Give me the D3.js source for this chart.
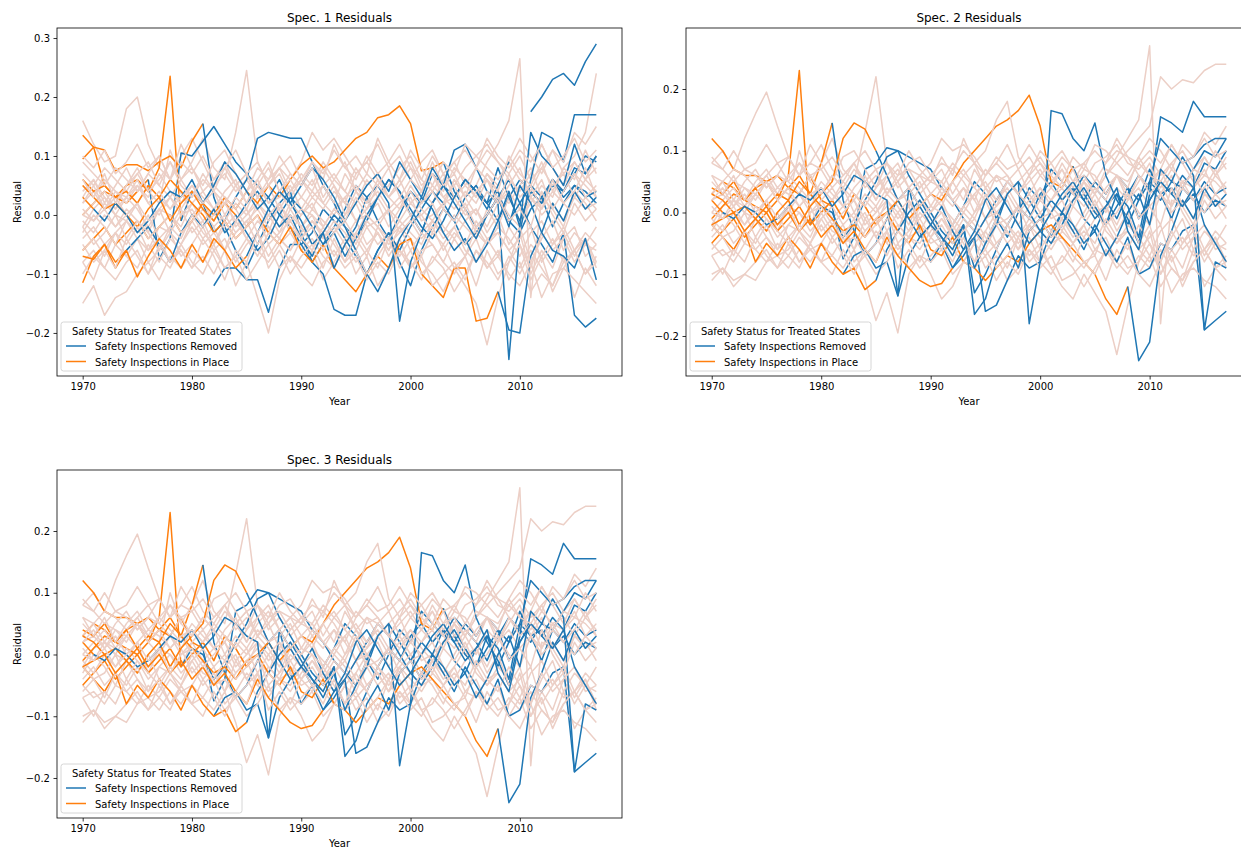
<!DOCTYPE html>
<html>
<head>
<meta charset="utf-8">
<script src="https://cdn.jsdelivr.net/npm/d3@7"></script>
<style>
  body { margin: 0; background: #fff; }
  text { font-family: "DejaVu Sans", sans-serif; fill: #000; }
</style>
</head>
<body>
<svg id="chart" width="1241" height="850"></svg>
<script>
// years on the x axis
const years = d3.range(1970, 2018);
const xTicks = [1970, 1980, 1990, 2000, 2010];

// residuals are written in hundredths (5 -> 0.05), one row per state, 1970..2017
// ---- Spec. 1: untreated states
const spec1Untreated = [
  [16,12,9,10,18,20,12,8,6,10, 13,9,5,7,4,6,3,5,8,6, 9,14,11,13,10,7,9,12,8,10, 6,9,11,7,5,8,10,12,9,7, 10,6,8,11,7,9,6,8],
  [4,6,3,1,5,7,4,2,11,6, 9,13,8,6,14,24.5,9,5,7,3, 6,4,8,5,2,7,9,6,3,5, 8,4,2,6,9,5,3,7,4,2, 5,8,3,6,4,7,5,3],
  [-2,1,3,0,-1,2,-3,1,0,-2, 2,-1,1,3,-2,0,2,-1,1,-3, 0,2,-2,1,3,-1,0,2,-2,1, 3,-1,0,2,6,3,5,9,12,16, 26.5,-14,3,1,-2,4,2,-1],
  [-4,-2,-5,-3,-1,-4,-6,-2,-3,-5, -1,-4,-2,-6,-3,-1,-5,-2,-4,-6, -3,-1,-4,-2,-5,-3,0,-2,-4,-1, -3,-5,-1,-3,0,-2,-4,1,-2,3, -1,2,5,3,8,10,14,24],
  [-15,-12,-17,-14,-13,-10,-8,-11,-7,-9, -6,-8,-5,-9,-7,-4,-6,-8,-5,-3, -6,-4,-7,-9,-5,-8,-6,-3,-7,-4, -9,-6,-5,-8,-10,-7,-4,-9,-6,-11, -8,-13,-10,-12,-7,-14,-9,-12],
  [-5,-8,-6,-3,-7,-9,-5,-8,-4,-6, -9,-7,-10,-6,-12,-8,-14,-20,-11,-7, -9,-6,-11,-8,-5,-10,-7,-12,-9,-6, -8,-11,-7,-9,-13,-10,-6,-8,-11,-7, -10,-6,-9,-12,-8,-6,-10,-7],
  [2,4,1,3,0,2,5,3,1,4, 0,2,-1,3,1,-2,2,0,-3,1, -2,0,-4,-1,-3,-6,-2,-5,-3,-7, -4,-8,-10,-13,-9,-12,-15,-22,-14,-8, -3,-10,-6,-9,-4,-8,-5,-6],
  [7,5,8,6,4,7,9,5,3,6, 8,4,6,9,5,7,3,6,8,4, 7,5,9,6,4,8,5,7,3,6, 9,5,7,4,8,6,3,7,5,9, 6,4,8,5,7,3,6,4],
  [-8,-6,-9,-5,-7,-4,-8,-6,-3,-7, -5,-2,-6,-4,-8,-5,-3,-7,-4,-6, -2,-5,-3,-7,-4,-1,-5,-3,-6,-2, -4,-7,-3,-5,-2,-6,-8,-4,-3,-6, -9,-5,-7,-4,-8,-6,-3,-5],
  [1,-1,2,0,3,1,-2,1,3,0, 2,4,1,-1,2,0,3,1,-2,2, 0,3,1,4,2,-1,1,3,0,2, 4,1,-1,2,3,0,1,-2,2,4, 1,3,0,2,-1,3,1,2],
  [5,3,6,4,2,5,3,7,4,2, 5,3,1,4,6,2,5,8,4,6, 3,1,5,7,4,2,6,3,5,8, 10,6,4,7,3,5,8,11,9,6, 4,7,12,8,5,9,6,10],
  [-3,0,-2,-5,-1,-3,0,-4,-2,1, -3,-1,-5,-2,0,-4,-1,-3,2,-2, -4,-1,-3,0,-2,-5,-1,-3,-6,-2, 0,-3,-1,-4,-2,1,-3,-5,-2,-4, -7,-3,-1,-5,-2,-6,-4,-8],
  [0,2,4,1,3,5,2,0,3,1, 4,2,5,3,1,4,6,2,3,5, 1,4,2,0,3,5,2,4,1,3, 0,2,5,3,1,4,2,6,3,0, -2,3,1,4,2,0,3,1],
  [-10,-7,-9,-11,-8,-6,-10,-7,-9,-5, -8,-10,-6,-9,-7,-11,-8,-5,-9,-7, -10,-12,-8,-6,-9,-7,-11,-8,-10,-6, -9,-7,-12,-10,-8,-11,-6,-9,-7,-10, -12,-8,-14,-10,-9,-11,-13,-15],
  [3,6,2,5,8,4,7,10,6,12, 8,5,9,11,7,4,8,6,10,7, 5,9,6,12,8,10,7,13,9,6, 11,8,5,9,7,12,10,8,6,9, 13,10,7,11,9,14,12,15],
  [-1,-3,0,-2,1,-1,-4,-2,0,-3, -1,1,-2,0,-3,-1,1,-2,-4,0, -2,1,-1,-3,0,2,-2,-1,1,-3, -1,0,2,-2,-4,-1,1,-3,0,-5, -2,-8,-4,-1,-6,-3,-5,-2],
  [9,7,5,8,6,4,7,5,9,6, 3,6,4,2,5,7,3,5,1,4, 6,3,5,2,7,4,1,5,3,6, 2,4,7,3,5,1,4,6,2,5, 8,3,6,1,4,7,3,5],
  [-6,-4,-7,-3,-5,-2,-6,-4,-8,-5, -2,-5,-3,-6,-1,-4,-7,-3,-5,-8, -4,-6,-2,-5,-8,-3,-6,-9,-4,-2, -6,-3,-5,-8,-4,-7,-2,-5,-3,-6, -4,-2,-8,-5,-3,-7,-4,-9],
  [2,5,1,4,3,6,2,4,1,3, 5,2,4,0,3,1,5,2,4,1, 3,6,2,5,0,4,2,6,3,1, 5,2,4,1,6,3,0,4,2,7, 3,5,1,6,2,4,8,3],
  [-2,-5,-3,0,-4,-1,-3,-6,-2,-4, 0,-3,-5,-1,-4,-2,0,-5,-3,-1, -4,-2,-6,-3,-1,-4,-7,-2,-5,-3, -1,-4,-2,-6,-3,-5,-1,-4,-7,-2, -5,-9,-3,-6,-4,-2,-7,-5],
  [6,3,7,2,5,8,4,6,9,5, 3,7,4,8,5,2,6,9,4,7, 5,8,3,6,9,4,7,5,8,3, 6,4,9,5,7,3,8,6,4,10, 7,5,9,4,8,6,11,7],
  [-8,-11,-6,-9,-4,-7,-10,-5,-8,-6, -9,-4,-7,-11,-6,-8,-3,-9,-6,-10, -7,-5,-9,-4,-8,-6,-10,-7,-4,-9, -6,-10,-8,-5,-9,-7,-12,-6,-10,-8, -5,-11,-7,-13,-9,-6,-10,-8],
  [0,-1,1,-2,0,2,-1,1,-3,0, 1,-2,0,2,-1,1,-3,0,2,-1, 1,0,-2,1,-1,3,0,-2,1,-1, 2,0,-3,1,-1,2,-2,0,3,-1, 1,-2,4,0,-3,2,-1,1],
  [10,8,11,7,9,12,8,10,6,9, 7,10,6,8,11,7,9,5,8,10, 6,9,7,11,8,6,10,7,9,12, 8,6,10,7,9,11,8,13,10,8, 11,9,12,8,10,13,9,11]
];

// ---- Spec. 1: treated states, and the first year without inspections
const spec1Treated = [
  [13.5,11.5,11,7.5,8.5,8.5,7.5,9,10,8, 12.5,15.5,3,-2,-6,-9,-5,-1,2,4, -3,-8,-5,-2,1,5,3,-1,-4,0, 4,2,7,5,3,6,4,2,-1,3, 6,4,2,5,4,7,10,9],
  [9.5,11.5,5,3,2,4,6,-7.5,-4,10.5, 10,12.5,15,12,9,7,5,3,0,-2, -5,-3,1,-1,-4,-7,-10,-6,-3,-8, -12,-6,-2,1,-1,3,5,2,4,-1, -3,1,3,-2,2,5,3,4],
  [0,2,4,3,5,6,4,8,23.5,-1, 4,2,-3,-1,3,6,13,14,13.5,13, 13,9,5,2,-2,-4,-1,3,6,4, 0,-3,2,5,3,6,4,2,8,3, -1,4,2,6,3,5,4,2],
  [null,null,null,null,null,null,null,null,null,null, null,null,-12,-9,-9,-11,-11,-16.5,-9,-5, -5,-8,-10,-16,-17,-17,-10,-6,-3,-6, -2,1,4,2,-1,-5,-3,0,3,6, 2,-2,-5,-8,-3,-17,-19,-17.5],
  [-6,-4,-2,-5,-3,-1,-4,-2,0,-3, -1,2,0,3,1,4,2,5,3,6, 8.5,10,8,9,11,13,14,16.5,17,18.5, 15.5,7.5,8,9,4,1,-2,0,3,-1, 2,5,3,6,4,8,7,10],
  [6,4,5,3,4,2,5,3,6,4, 2,0,-3,-1,-4,-2,0,-3,-5,-2, -6,-8,-5,-9,-11,-13,-10,-7,-9,-5, -4,-10,-12,-14,-9,-9,-18,-17.5,-13,-19.5, -20,-7,-3,2,-1,4,1,3],
  [-11.5,-7,-5,-8,-6,-4,-2,-5,-8,-3, 0,-2,1,-3,-1,2,4,1,-2,0, -4,-7,-3,-9,-5,-2,3,5,2,-18, -8,-3,2,5,11,12,8,4,2,-24.5, -3,6,14,13,9,17,17,17],
  [5,3,1,2,0,-2,1,3,-1,2, 4,1,-1,2,0,-3,-6,-4,0,3, 1,-2,-5,-3,-7,-4,0,3,6,4, 1,-2,-4,-1,3,6,4,1,5,9, null,17.5,20,23,24,22,26,29],
  [3,1,-1,2,0,-3,-1,2,4,3, 6,2,5,9,7,4,1,3,6,2, -1,-5,-3,0,-2,-6,-10,-13,-9,-4, -1,3,1,-3,-6,-4,-8,-5,-1,4, -2,14,10,8,5,12,7,10],
  [-7,-7.5,-5,-9,-6,-10.5,-7,-4,-6,-9, -5,-8,-4,-6,-9,-7,-3,1,4,2, 5,8,6,3,-1,2,5,7,4,9, 6,3,8,5,2,-1,-4,0,3,-2, 5,2,-3,-6,-7,-9,-4,-11]
];
const spec1Removed = [1982, 1977, 1980, 1970, 2004, 2009, 1975, 1985, 1972, 1986];

// ---- Spec. 2 (Spec. 3 reads the same off the picture)
const spec2Untreated = [
  [8,10,7,12,16,19.5,14,9,6,8, 11,7,5,8,4,6,3,5,7,6, 8,12,10,11,9,6,8,11,7,9, 6,8,10,7,5,8,9,11,8,7, 9,6,8,10,7,9,6,8],
  [3,5,2,1,4,6,3,2,10,5, 8,12,7,5,13,22,8,4,6,3, 5,4,7,5,2,6,8,6,3,5, 7,4,2,5,8,5,3,6,4,2, 5,7,3,5,4,6,5,3],
  [-2,1,2,0,-1,2,-3,1,0,-2, 2,-1,1,2,-2,0,2,-1,1,-3, 0,2,-2,1,3,-1,0,2,-2,1, 3,-1,0,2,5,3,6,9,12,15, 27,-18,2,1,-2,3,2,-1],
  [-4,-2,-5,-3,-1,-4,-6,-2,-3,-5, -1,-4,-2,-6,-3,-1,-5,-2,-4,-6, -3,-1,-4,-2,-5,-3,0,-2,-4,-1, -3,-5,-1,-3,0,3,6,8,10,12, 14,22,20,21.5,21,23,24,24],
  [-11,-9,-12,-10,-11,-8,-7,-9,-6,-8, -5,-7,-4,-8,-6,-3,-5,-7,-4,-3, -5,-4,-6,-8,-5,-7,-5,-3,-6,-4, -8,-5,-4,-7,-9,-6,-4,-8,-5,-10, -7,-12,-9,-11,-6,-12,-9,-11],
  [-5,-7,-6,-3,-6,-8,-5,-7,-4,-6, -8,-7,-9,-6,-11,-17.5,-13,-19.5,-10,-7, -8,-6,-10,-8,-5,-9,-7,-11,-9,-6, -8,-10,-7,-9,-12,-9,-6,-8,-10,-7, -9,-6,-9,-11,-8,-6,-9,-7],
  [2,3,1,3,0,2,4,3,1,3, 0,2,-1,3,1,-2,2,0,-3,1, -2,0,-4,-1,-3,-6,-2,-5,-3,-7, -5,-9,-12,-14,-10,-13,-16,-23,-15,-8, -3,-10,-6,-9,-4,-8,-5,-6],
  [6,5,7,6,4,6,8,5,3,6, 7,4,6,8,5,7,3,6,7,4, 6,5,8,6,4,7,5,6,3,6, 8,5,7,4,7,6,3,6,5,8, 6,4,7,5,6,3,6,4],
  [-7,-6,-8,-5,-6,-4,-7,-6,-3,-6, -5,-2,-5,-4,-7,-5,-3,-6,-4,-5, -2,-5,-3,-6,-4,-1,-5,-3,-6,-2, -4,-6,-3,-5,-2,-6,-7,-4,-3,-6, -8,-5,-6,-4,-7,-6,-3,-5],
  [1,-1,2,0,3,1,-2,1,3,0, 2,4,1,-1,2,0,3,1,-2,2, 0,3,1,4,2,-1,1,3,0,2, 4,1,-1,2,3,0,1,-2,2,4, 1,3,0,2,-1,3,1,2],
  [5,3,5,4,2,5,3,6,4,2, 5,3,1,4,6,2,5,7,4,6, 3,1,5,7,4,2,6,3,5,7, 9,6,4,7,3,5,8,10,9,6, 4,7,11,8,5,9,6,9],
  [-3,0,-2,-5,-1,-3,0,-4,-2,1, -3,-1,-5,-2,0,-4,-1,-3,2,-2, -4,-1,-3,0,-2,-5,-1,-3,-6,-2, 0,-3,-1,-4,-2,1,-3,-5,-2,-4, -7,-3,-1,-5,-2,-6,-4,-8],
  [0,2,4,1,3,5,2,0,3,1, 4,2,5,3,1,4,6,2,3,5, 1,4,2,0,3,5,2,4,1,3, 0,2,5,3,1,4,2,6,3,0, -2,3,1,4,2,0,3,1],
  [-10,-9,-11,-10,-8,-6,-9,-7,-9,-5, -8,-10,-6,-9,-7,-10,-8,-5,-9,-7, -10,-14,-12,-8,-9,-7,-11,-8,-10,-6, -9,-7,-11,-10,-8,-10,-6,-9,-7,-10, -12,-8,-13,-10,-9,-11,-12,-14],
  [3,5,2,5,7,4,6,9,6,11, 8,5,9,10,7,4,8,6,10,7, 5,9,6,12,8,10,15,18,9,6, 10,8,5,9,7,11,10,8,6,9, 12,10,7,11,9,13,11,14],
  [-1,-3,0,-2,1,-1,-4,-2,0,-3, -1,1,-2,0,-3,-1,1,-2,-4,0, -2,1,-1,-3,0,2,-2,-1,1,-3, -1,0,2,-2,-4,-1,1,-3,0,-5, -2,-8,-4,-1,-6,-3,-5,-2],
  [8,7,5,7,6,4,6,5,8,6, 3,6,4,2,5,7,3,5,1,4, 6,3,5,2,7,4,1,5,3,6, 2,4,7,3,5,1,4,6,2,5, 8,3,6,1,4,7,3,5],
  [-6,-4,-7,-3,-5,-2,-6,-4,-8,-5, -2,-5,-3,-6,-1,-4,-7,-3,-5,-8, -4,-6,-2,-5,-8,-3,-6,-9,-4,-2, -6,-3,-5,-8,-4,-7,-2,-5,-3,-6, -4,-2,-8,-5,-3,-7,-4,-9],
  [2,4,1,4,3,5,2,4,1,3, 4,2,4,0,3,1,4,2,4,1, 3,5,2,4,0,4,2,5,3,1, 4,2,4,1,5,3,0,4,2,6, 3,5,1,5,2,4,7,3],
  [-2,-4,-3,0,-4,-1,-3,-5,-2,-4, 0,-3,-4,-1,-4,-2,0,-5,-3,-1, -4,-2,-5,-3,-1,-4,-6,-2,-5,-3, -1,-4,-2,-5,-3,-5,-1,-4,-6,-2, -5,-8,-3,-6,-4,-2,-6,-5],
  [6,3,6,2,5,7,4,6,8,5, 3,6,4,7,5,2,6,8,4,6, 5,7,3,6,8,4,6,5,7,3, 6,4,8,5,6,3,7,6,4,9, 6,5,8,4,7,6,10,7],
  [-7,-10,-6,-8,-4,-7,-9,-5,-8,-6, -8,-4,-7,-10,-6,-8,-3,-9,-6,-9, -7,-5,-8,-4,-8,-6,-9,-7,-4,-8, -6,-9,-8,-5,-8,-7,-11,-6,-9,-8, -5,-10,-7,-12,-8,-6,-9,-8],
  [0,-1,1,-2,0,2,-1,1,-3,0, 1,-2,0,2,-1,1,-3,0,2,-1, 1,0,-2,1,-1,3,0,-2,1,-1, 2,0,-3,1,-1,2,-2,0,3,-1, 1,-2,4,0,-3,2,-1,1],
  [9,7,10,7,8,11,8,9,6,8, 7,9,6,8,10,7,8,5,8,9, 6,8,7,10,8,6,9,7,8,11, 8,6,9,7,8,10,8,12,9,8, 10,8,11,8,9,12,9,10]
];

const spec2Treated = [
  [12,10,7,6,6,5,6,4,6,3, 8,14.5,2,-3,-7,-5,-1,2,4,-3, -8,-5,-2,1,5,3,-1,-4,0,4, 2,7,5,3,6,4,2,-1,3,6, 4,2,5,4,7,10,9,12],
  [3,5,4,2,1,0,2,4,3,6, 2,1,-7.5,-4,7,8,10.5,10,6,3, 0,-3,-5,-2,-13,-10,-6,-2,1,-1, 3,5,2,4,-1,-3,1,3,-2,2, 5,3,4,1,3,0,2,1],
  [-1,1,3,2,4,5,2,6,23,-2, 1,0,-4,-2,2,5,9,10,9,8, 7,4,2,-1,-3,-5,-1,3,5,2, -1,-4,0,4,2,5,3,6,4,2, 7,3,-1,4,2,5,3,4],
  [null,null,null,null,null,null,null,null,null,null, null,null,-10,-7,-6,-9,-8,-13.5,-7,-4, -2,-5,-9,-7,-4,-16,-15,-11,-7,-9, -8,-3,0,-3,-6,-2,-5,-8,-4,-10, -9,-5,-6,-3,-2,-19,-17.5,-16],
  [-5,-3,-1,-4,-2,0,-3,-1,1,-2, 0,2,-1,3,1,-2,0,2,-1,1, 3,2,5,8,10,12,14,15,16.5,19, 14,5,4,7.5,3,0,-2,1,4,-1, 2,5,3,6,4,8,7,10],
  [4,3,5,2,4,1,3,2,5,3, 1,-1,-3,-2,-4,-1,0,-3,-5,-2, -6,-7,-4,-8,-9,-11,-9,-7,-8,-5, -3,-2,-4,-6,-8,-10,-14,-16.5,-12,-24, -21,-7,-3,2,-1,4,1,3],
  [-2,-4,-6,-3,-8,-5,-7,-4,-6,-9, -5,-8,-10,-9,-12.5,-11,-6,-3,0,2, -1,-4,-7,-3,-9,-5,-2,3,5,-18, -8,16.5,16,12,10,14.5,6,2,-1,-5, 3,15.5,14.5,13,18,15.5,15.5,15.5],
  [3,2,0,1,-1,-3,0,2,-2,1, 3,5,12,14.5,13.5,10,6,2,-1,-4, -2,1,-3,-6,-4,-1,2,5,3,0, -3,-5,-2,2,4,1,-2,3,1,-4, 5,12,10,8,9,11,12,12],
  [2,0,-1,1,0,-2,-1,1,3,2, 4,1,3,6,5,3,2,-13.5,4,1, -2,-4,-6,-2,-16.5,-14,-8,-5,-9,-3, -1,2,0,-2,-5,-3,-7,-4,0,3, -2,7,5,9,6,-19,-8,-9],
  [-2,-1,0,-3,-1,1,-2,0,-3,-1, -4,-2,-5,-3,-6,-8,-4,-7,-9,-11, -12,-11.5,-9,-6,-3,2,4,1,-2,-5, -3,0,3,5,2,-1,1,4,-3,-6, 2,5,3,1,4,-2,-5,-8]
];
const spec2Removed = [1982, 1982, 1980, 1970, 2004, 2009, 1986, 1986, 1972, 1993];

const panelTitles = ["Spec. 1 Residuals", "Spec. 2 Residuals", "Spec. 3 Residuals"];
const legendTitle = "Safety Status for Treated States";
const legendLabels = ["Safety Inspections Removed", "Safety Inspections in Place"];

const colors = { removed: "#1f77b4", inPlace: "#ff7f0e", untreated: "#eccfc6" };

const svg = d3.select("#chart");

const panels = [
  { title: panelTitles[0], left: 57, top: 28, width: 565, height: 348, yDomain: [-0.273, 0.317],
    yTicks: [-0.2, -0.1, 0, 0.1, 0.2, 0.3], untreated: spec1Untreated, treated: spec1Treated, removed: spec1Removed },
  { title: panelTitles[1], left: 686, top: 28, width: 566, height: 348, yDomain: [-0.2648, 0.2988],
    yTicks: [-0.2, -0.1, 0, 0.1, 0.2], untreated: spec2Untreated, treated: spec2Treated, removed: spec2Removed },
  { title: panelTitles[2], left: 57, top: 470, width: 565, height: 348, yDomain: [-0.2648, 0.2988],
    yTicks: [-0.2, -0.1, 0, 0.1, 0.2], untreated: spec2Untreated, treated: spec2Treated, removed: spec2Removed }
];

panels.forEach((p, i) => drawPanel(p, i));

function drawPanel(p, idx) {
  const g = svg.append("g").attr("transform", `translate(${p.left},${p.top})`);

  const x = d3.scaleLinear().domain([1967.65, 2019.35]).range([0, p.width]);
  const y = d3.scaleLinear().domain(p.yDomain).range([p.height, 0]);

  g.append("clipPath").attr("id", "clip" + idx)
    .append("rect").attr("width", p.width).attr("height", p.height);

  const plot = g.append("g").attr("clip-path", `url(#clip${idx})`);

  const line = d3.line()
    .defined(d => d.v != null)
    .x(d => x(d.year))
    .y(d => y(d.v / 100));

  // keep only some years of a row
  const rows = (values, keep) => years.map((year, j) => ({ year, v: keep(year) ? values[j] : null }));

  // states drawn interleaved, like a plot loop over all states
  const items = [];
  let t = 0;
  p.untreated.forEach((vals, k) => {
    items.push({ kind: "u", vals });
    if (k % 2 === 1 && t < p.treated.length) { items.push({ kind: "t", vals: p.treated[t], sw: p.removed[t] }); t++; }
  });
  while (t < p.treated.length) { items.push({ kind: "t", vals: p.treated[t], sw: p.removed[t] }); t++; }

  const addPath = (d, color) => plot.append("path")
    .attr("d", d)
    .attr("fill", "none")
    .attr("stroke", color)
    .attr("stroke-width", 1.5)
    .attr("stroke-linejoin", "round");

  items.forEach(it => {
    if (it.kind === "u") {
      addPath(line(rows(it.vals, () => true)), colors.untreated);
    } else {
      addPath(line(rows(it.vals, yr => yr < it.sw)), colors.inPlace);
      // removed part starts from the last in-place year so the line stays joined
      addPath(line(rows(it.vals, yr => yr >= it.sw - 1)), colors.removed);
    }
  });

  // axes
  const xAxis = g.append("g").attr("transform", `translate(0,${p.height})`)
    .call(d3.axisBottom(x).tickValues(xTicks).tickFormat(d3.format("d")).tickSize(3.5).tickPadding(3.5));
  const yAxis = g.append("g")
    .call(d3.axisLeft(y).tickValues(p.yTicks).tickFormat(d3.format(".1f")).tickSize(3.5).tickPadding(3.5));
  [xAxis, yAxis].forEach(a => {
    a.select(".domain").remove();
    a.selectAll(".tick line").attr("stroke", "#000").attr("stroke-width", 0.8);
    a.selectAll(".tick text").attr("font-size", 10).attr("fill", "#000")
      .attr("font-family", "DejaVu Sans, sans-serif");
  });

  // spines
  g.append("rect")
    .attr("x", 0).attr("y", 0).attr("width", p.width).attr("height", p.height)
    .attr("fill", "none").attr("stroke", "#000").attr("stroke-width", 0.8);

  g.append("text").attr("x", p.width / 2).attr("y", -6)
    .attr("text-anchor", "middle").attr("font-size", 12).text(p.title);
  g.append("text").attr("x", p.width / 2).attr("y", p.height + 29)
    .attr("text-anchor", "middle").attr("font-size", 10).text("Year");
  g.append("text").attr("transform", `translate(-36,${p.height / 2}) rotate(-90)`)
    .attr("text-anchor", "middle").attr("font-size", 10).text("Residual");

  // legend
  const lg = g.append("g").attr("transform", `translate(4,${p.height - 54})`);
  lg.append("rect").attr("width", 181).attr("height", 49).attr("rx", 2.5)
    .attr("fill", "#fff").attr("fill-opacity", 0.8).attr("stroke", "#ccc").attr("stroke-width", 0.8);
  lg.append("text").attr("x", 90.5).attr("y", 13).attr("text-anchor", "middle")
    .attr("font-size", 10).text(legendTitle);
  [colors.removed, colors.inPlace].forEach((c, k) => {
    const yy = 24 + k * 15.5;
    lg.append("line").attr("x1", 5).attr("x2", 25).attr("y1", yy).attr("y2", yy)
      .attr("stroke", c).attr("stroke-width", 1.5);
    lg.append("text").attr("x", 34).attr("y", yy + 4).attr("font-size", 10).text(legendLabels[k]);
  });
}
</script>
</body>
</html>
